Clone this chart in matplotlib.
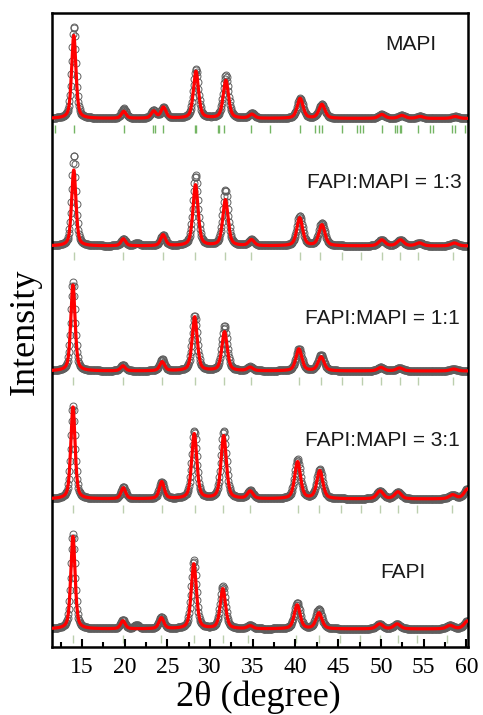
import matplotlib

matplotlib.use("Agg")

import matplotlib.pyplot as plt
import numpy as np
from matplotlib.ticker import MultipleLocator

# --- data (2theta in degrees, intensity in arb. units) ---
labels = ["MAPI", "FAPI:MAPI = 1:3", "FAPI:MAPI = 1:1", "FAPI:MAPI = 3:1", "FAPI"]

mapi_pos = [14.05, 19.9, 23.4, 24.55, 28.35, 31.85, 34.9, 40.55, 43.1, 50.1, 52.45, 54.6, 58.7]
mapi_calc = [83, 7, 7, 11, 47, 38, 4, 20, 14, 4, 3, 2, 2]
mapi_obs = [92, 10, 8, 11, 49, 43, 5, 20, 14, 4, 3, 2, 2]
mapi_ticks = [11.8, 14.06, 19.92, 23.32, 23.5, 24.5, 28.2, 28.4, 30.9, 31.05, 31.65, 34.8,
              37.0, 40.5, 42.3, 42.7, 43.1, 45.4, 47.2, 47.6, 47.9, 50.1, 51.7, 51.9, 52.2,
              52.4, 54.4, 55.8, 56.1, 58.3, 58.7, 59.9]

mix13_pos = [14.05, 19.85, 21.45, 24.5, 28.3, 31.8, 34.85, 40.5, 43.1, 50.1, 52.3, 54.5, 58.6]
mix13_calc = [76, 7, 0, 11, 61, 46, 6, 28, 21, 6, 6, 3, 3]
mix13_obs = [91, 7, 3, 11, 71, 56, 6, 30, 23, 6, 6, 3, 3]
mix13_ticks = [14.06, 19.8, 24.5, 28.2, 31.7, 34.8, 40.5, 42.9, 45.4, 47.7, 50.1, 52.2, 54.4, 58.5]

mix11_pos = [13.95, 19.8, 24.4, 28.2, 31.7, 34.7, 40.4, 43.0, 50.0, 52.2, 58.5]
mix11_calc = [86, 5, 9, 54, 39, 3.5, 22, 14, 3.5, 3, 2]
mix11_obs = [89, 6, 11.5, 55, 45, 4, 22, 16, 3.5, 3, 2]
mix11_ticks = [13.98, 19.84, 24.43, 28.21, 31.67, 34.8, 40.47, 42.97, 45.43, 47.78, 50.0,
               52.26, 54.4, 58.5]

mix31_pos = [13.95, 19.85, 24.35, 28.15, 31.6, 34.7, 40.25, 42.85, 49.9, 52.0, 58.4, 60.15]
mix31_calc = [92, 11, 17, 65, 63, 7.5, 37, 28, 8, 7, 4, 10]
mix31_obs = [93, 12, 17, 68, 68, 8, 39.5, 29, 8, 7, 4, 10]
mix31_ticks = [13.98, 19.84, 24.43, 28.21, 31.55, 34.66, 40.32, 42.78, 45.33, 47.67, 49.9,
               52.05, 54.27, 58.38]

fapi_pos = [13.95, 19.8, 21.4, 24.3, 28.1, 31.5, 34.7, 40.2, 42.75, 49.85, 51.9, 58.1, 60.15]
fapi_calc = [92.6, 8, 0, 11, 65, 40, 3, 24, 16, 5, 5, 3.5, 8]
fapi_obs = [95, 9, 4, 12, 68.6, 42.6, 3.5, 26, 20, 5, 5, 3.5, 8]
fapi_ticks = [13.95, 19.8, 24.3, 28.1, 31.5, 34.5, 40.1, 42.7, 45.2, 47.6, 49.9, 52.0, 54.2, 57.8]

x_ticks = [15, 20, 25, 30, 35, 40, 45, 50, 55, 60]

# --- layout / style ---
offsets = [528.5, 401, 276, 148, 18]
tick_colors = ["#74b563", "#bccfae", "#bccfae", "#bccfae", "#bccfae"]
label_xy = [(50.5, 602, "left"), (59.5, 464, "right"), (59.2, 329, "right"),
            (59.2, 207, "right"), (49.9, 74, "left")]

serif = ["Liberation Serif", "DejaVu Serif"]
sans = ["Liberation Sans", "DejaVu Sans"]
plt.rcParams["font.family"] = serif


def pseudo_voigt(x, pos, heights, eta=0.5):
    y = np.zeros_like(x)
    for p, h in zip(pos, heights):
        w = 0.6 + 0.008 * (p - 14)
        u = (x - p) / (w / 2)
        lor = 1.0 / (1.0 + u ** 2)
        gau = np.exp(-np.log(2) * u ** 2)
        y += h * (eta * lor + (1 - eta) * gau)
    return y


patterns = [
    (mapi_pos, mapi_calc, mapi_obs, mapi_ticks),
    (mix13_pos, mix13_calc, mix13_obs, mix13_ticks),
    (mix11_pos, mix11_calc, mix11_obs, mix11_ticks),
    (mix31_pos, mix31_calc, mix31_obs, mix31_ticks),
    (fapi_pos, fapi_calc, fapi_obs, fapi_ticks),
]

fig = plt.figure(figsize=(4.83, 7.15), dpi=100)
ax = fig.add_axes([52 / 483, 68 / 715, 416 / 483, 634 / 715])

x_obs = np.arange(11.5, 60.2, 0.07)
x_calc = np.arange(11.5, 60.2, 0.01)

for (pos, calc, obs, ticks), off, tcol, (lx, ly, ha), name in zip(
        patterns, offsets, tick_colors, label_xy, labels):
    y_obs = off + pseudo_voigt(x_obs, pos, obs)
    y_calc = off + pseudo_voigt(x_calc, pos, calc)
    ax.plot(x_obs, y_obs, ls="none", marker="o", ms=5, mfc="none", mec="#5e5e5e", mew=0.7, zorder=2)
    ax.plot(x_calc, y_calc, color="red", lw=2.3, zorder=3)
    ax.vlines(ticks, off - 14, off - 6, color=tcol, lw=1.0, zorder=1)
    ax.text(lx, ly, name, ha=ha, va="center", fontsize=15, family=sans, color="#1a1a1a")

ax.set_xlim(11.5, 60.2)
ax.set_ylim(0, 634)
ax.set_yticks([])
ax.set_xticks(x_ticks, labels=[str(t) for t in x_ticks], fontfamily=serif, fontsize=17)
ax.xaxis.set_minor_locator(MultipleLocator(2.5))
ax.tick_params(axis="x", which="major", direction="in", length=6, width=1.5, pad=7)
ax.tick_params(axis="x", which="minor", direction="in", length=3.5, width=1.5)
for spine in ax.spines.values():
    spine.set_linewidth(1.8)

fig.text(25 / 483, 1 - 332 / 715, "Intensity", rotation=90, ha="center", va="center",
         fontsize=26, family=serif)
fig.text(258 / 483, 1 - 697 / 715, "2θ (degree)", ha="center", va="center", fontsize=26,
         family=serif)

fig.savefig("out.png", dpi=100)
